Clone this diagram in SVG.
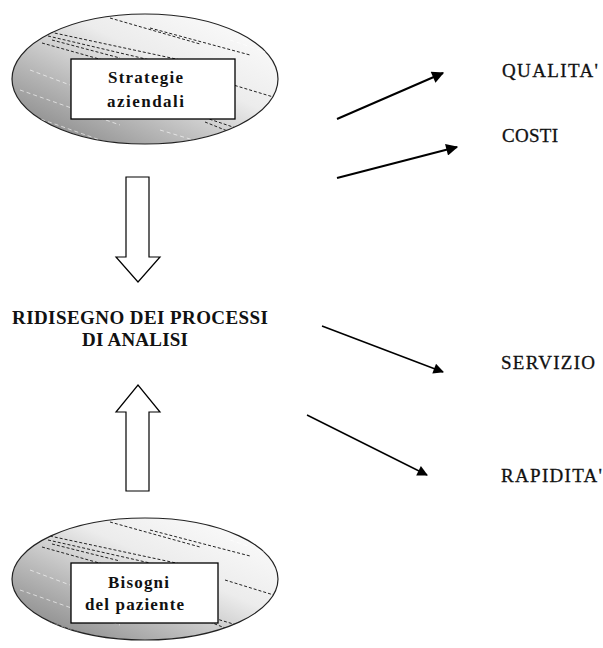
<svg xmlns="http://www.w3.org/2000/svg" width="603" height="648" viewBox="0 0 603 648">
<style>
.ell{stroke:#222;stroke-width:1.2}
.box{fill:#fff;stroke:#000;stroke-width:1.3}
.lbl{font-family:"Liberation Serif","Times New Roman",serif;font-weight:bold;font-size:17px;fill:#111}
.big{font-family:"Liberation Serif","Times New Roman",serif;font-weight:bold;font-size:19px;fill:#111}
.out{font-family:"Liberation Serif","Times New Roman",serif;font-size:19px;fill:#111;stroke:#111;stroke-width:0.3}
.bar{fill:#fff;stroke:#000;stroke-width:1.2}
.dk{stroke:#222;stroke-width:1;stroke-dasharray:3 2;fill:none}
.wt{stroke:#fff;stroke-width:1;stroke-dasharray:4 3;fill:none;opacity:0.6}
.con{stroke:#000;fill:none}
</style>
<defs>
<linearGradient id="g" x1="0" y1="1" x2="1" y2="0">
<stop offset="0" stop-color="#7a7a7a"/>
<stop offset="0.35" stop-color="#bcbcbc"/>
<stop offset="0.6" stop-color="#ececec"/>
<stop offset="1" stop-color="#ffffff"/>
</linearGradient>
<clipPath id="c1"><ellipse cx="145" cy="79" rx="133" ry="65"/></clipPath>
<clipPath id="c2"><ellipse cx="145" cy="579" rx="133" ry="61"/></clipPath>
<marker id="ah" viewBox="0 0 10 10" refX="9" refY="5" markerWidth="7" markerHeight="6" markerUnits="strokeWidth" orient="auto"><path d="M0,0 L10,5 L0,10 z" fill="#000"/></marker>
<marker id="ah2" viewBox="0 0 10 10" refX="9" refY="5" markerWidth="9" markerHeight="7" markerUnits="strokeWidth" orient="auto"><path d="M0,0 L10,5 L0,10 z" fill="#000"/></marker>
</defs>

<g id="strategie">
<ellipse class="ell" cx="145" cy="79" rx="133" ry="65" fill="url(#g)"/>
<g clip-path="url(#c1)">
<path class="dk" d="M45,31 L190,62 M48,36 L150,60 M52,40 L120,58 M42,43 L110,62 M110,18 L200,44 M150,28 L250,55 M230,84 L290,102 M200,116 L260,136 M205,122 L250,140"/>
<path class="wt" d="M20,90 L120,125 M15,110 L100,140 M30,70 L70,85 M230,40 L290,60 M160,130 L210,145"/>
</g>
<rect class="box" x="71" y="59" width="164" height="60"/>
<text class="lbl" x="108" y="83" textLength="75" lengthAdjust="spacing">Strategie</text>
<text class="lbl" x="107" y="107" textLength="77" lengthAdjust="spacing">aziendali</text>
</g>

<g id="bisogni">
<ellipse class="ell" cx="145" cy="579" rx="133" ry="61" fill="url(#g)"/>
<g clip-path="url(#c2)">
<path class="dk" d="M45,535 L190,566 M48,540 L150,563 M52,544 L120,561 M42,547 L110,566 M110,522 L200,547 M150,530 L250,556 M225,580 L290,600 M200,614 L260,632 M205,620 L250,638"/>
<path class="wt" d="M20,590 L120,625 M15,610 L100,640 M30,570 L70,585 M230,540 L290,560"/>
</g>
<rect class="box" x="71" y="563" width="147" height="60"/>
<text class="lbl" x="108" y="588" textLength="61" lengthAdjust="spacing">Bisogni</text>
<text class="lbl" x="85" y="610" textLength="99" lengthAdjust="spacing">del paziente</text>
</g>

<g id="ridisegno">
<text class="big" x="12" y="324" textLength="256" lengthAdjust="spacing">RIDISEGNO DEI PROCESSI</text>
<text class="big" x="82" y="346" textLength="106" lengthAdjust="spacing">DI ANALISI</text>
</g>

<g id="qualita"><text class="out" x="502" y="77" textLength="96" lengthAdjust="spacing">QUALITA'</text></g>
<g id="costi"><text class="out" x="502" y="142" textLength="56" lengthAdjust="spacing">COSTI</text></g>
<g id="servizio"><text class="out" x="501" y="369" textLength="94" lengthAdjust="spacing">SERVIZIO</text></g>
<g id="rapidita"><text class="out" x="501" y="482" textLength="101" lengthAdjust="spacing">RAPIDITA'</text></g>

<g id="connectors">
<path class="bar" d="M126,177 L149,177 L149,257 L160,257 L138,282 L116,257 L126,257 Z"/>
<path class="bar" d="M126,491 L149,491 L149,412 L160,412 L138,385 L116,412 L126,412 Z"/>
<line class="con" x1="337" y1="119" x2="443" y2="73" stroke-width="2" marker-end="url(#ah)"/>
<line class="con" x1="337" y1="178" x2="457" y2="147" stroke-width="2" marker-end="url(#ah)"/>
<line class="con" x1="322" y1="326" x2="443" y2="372" stroke-width="1.5" marker-end="url(#ah2)"/>
<line class="con" x1="307" y1="415" x2="427" y2="475" stroke-width="1.5" marker-end="url(#ah2)"/>
</g>
</svg>
